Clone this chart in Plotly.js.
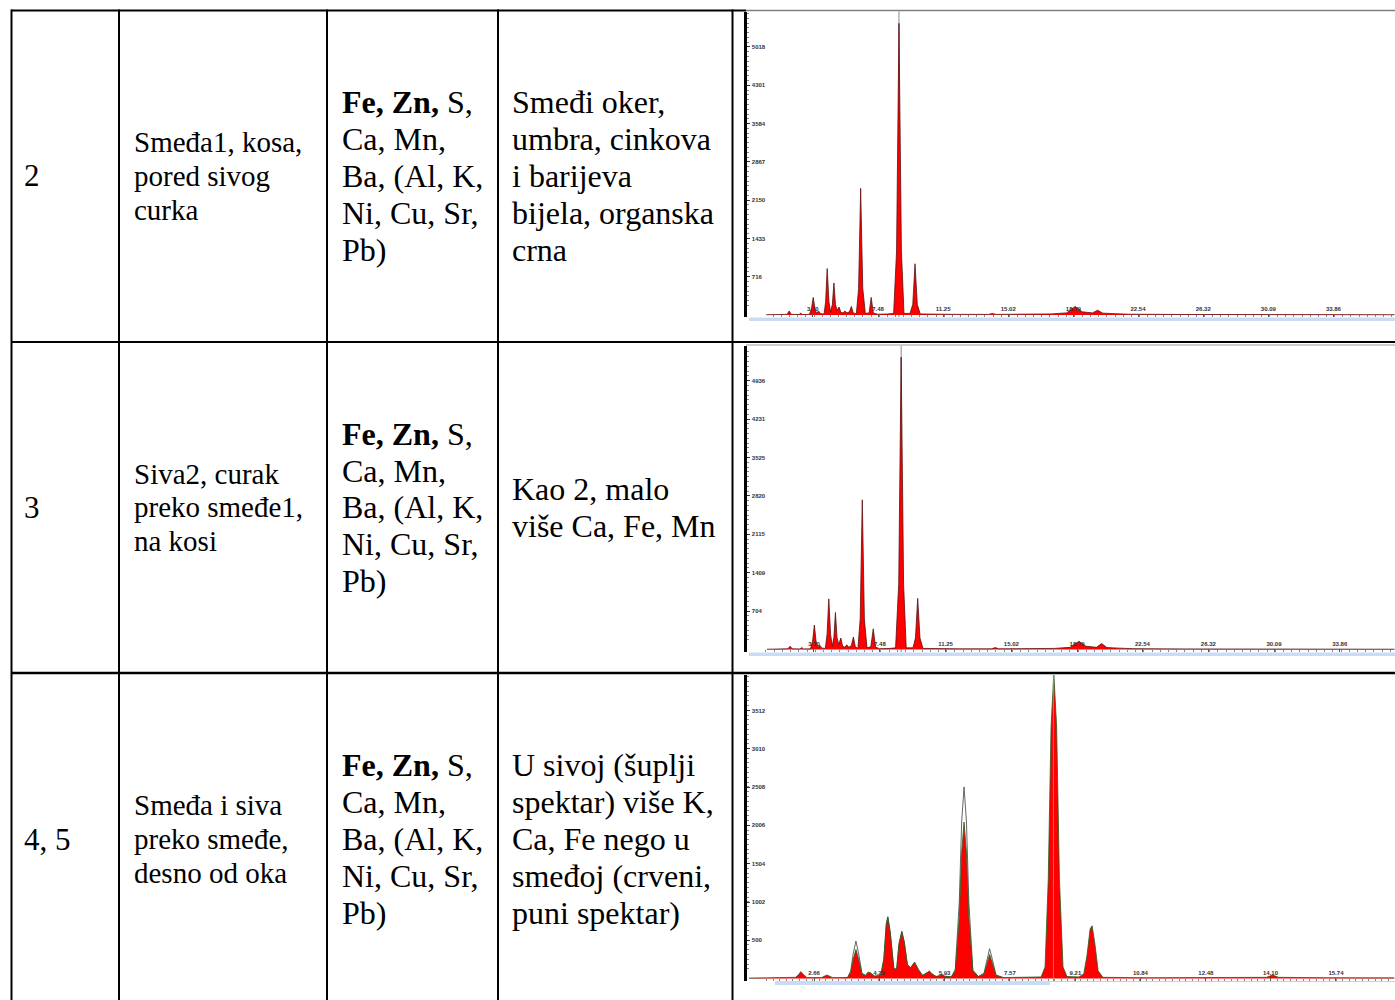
<!DOCTYPE html>
<html><head><meta charset="utf-8">
<script src="https://cdn.plot.ly/plotly-3.0.1.min.js"></script>
<style>html,body{margin:0;padding:0;background:#fff;}#chart{width:1395px;height:1000px;}</style>
</head><body><div id="chart"></div>
<script>
// ---------- table text ----------
const sampleIds = ["2", "3", "4, 5"];
const sampleDescriptions = [
  ["Smeđa1, kosa,", "pored sivog", "curka"],
  ["Siva2, curak", "preko smeđe1,", "na kosi"],
  ["Smeđa i siva", "preko smeđe,", "desno od oka"]
];
const detectedElements = [
  ["<b>Fe, Zn,</b> S,", "Ca, Mn,", "Ba, (Al, K,", "Ni, Cu, Sr,", "Pb)"],
  ["<b>Fe, Zn,</b> S,", "Ca, Mn,", "Ba, (Al, K,", "Ni, Cu, Sr,", "Pb)"],
  ["<b>Fe, Zn,</b> S,", "Ca, Mn,", "Ba, (Al, K,", "Ni, Cu, Sr,", "Pb)"]
];
const interpretations = [
  ["Smeđi oker,", "umbra, cinkova", "i barijeva", "bijela, organska", "crna"],
  ["Kao 2, malo", "više Ca, Fe, Mn"],
  ["U sivoj (šuplji", "spektar) više K,", "Ca, Fe nego u", "smeđoj (crveni,", "puni spektar)"]
];

// ---------- spectrum 1 (row "2") ----------
const s1Energy = [1.0,1.8,2.2,2.33,2.45,2.9,3.0,3.1,3.5,3.62,3.72,3.82,3.92,4.03,4.15,4.35,4.44,4.53,4.63,4.73,4.83,4.92,5.01,5.1,5.22,5.32,5.45,5.56,5.67,5.82,5.93,6.04,6.22,6.35,6.47,6.59,6.74,6.96,7.08,7.2,7.45,8.0,8.38,8.55,8.69,8.83,8.98,9.33,9.49,9.62,9.75,9.92,10.5,12.0,13.9,14.1,14.3,17.5,18.4,18.9,19.3,19.9,20.2,20.5,21.2,22.0,25.0,30.0,37.4];
const s1Counts = [5,10,12,75,12,10,35,10,12,120,330,120,30,75,25,20,250,870,250,60,200,600,200,90,150,50,40,75,40,60,160,40,20,500,2370,500,30,40,330,40,15,18,30,1200,5460,1200,30,30,200,960,200,20,15,12,12,30,12,20,40,160,60,40,90,35,25,15,10,8,5];
const s1YTicks = [716, 1433, 2150, 2867, 3584, 4301, 5018];
const s1XTicks = [3.70, 7.48, 11.25, 15.02, 18.79, 22.54, 26.32, 30.09, 33.86];
const s1XTickText = ["3.70", "7.48", "11.25", "15.02", "18.79", "22.54", "26.32", "30.09", "33.86"];

// ---------- spectrum 2 (row "3") ----------
const s2Energy = [1.0,1.8,2.2,2.33,2.45,2.9,3.0,3.1,3.5,3.62,3.72,3.82,3.92,4.03,4.15,4.35,4.45,4.55,4.65,4.75,4.84,4.93,5.02,5.12,5.24,5.34,5.47,5.58,5.69,5.84,5.96,6.07,6.22,6.35,6.47,6.59,6.74,6.96,7.1,7.23,7.45,8.0,8.38,8.56,8.70,8.84,8.99,9.38,9.52,9.65,9.78,9.95,10.5,12.0,13.9,14.1,14.3,17.5,18.4,18.9,19.3,19.9,20.2,20.5,21.2,22.0,25.0,30.0,37.0];
const s2Counts = [5,10,12,60,12,10,35,10,12,150,450,150,30,80,25,20,280,930,280,60,220,680,220,90,210,60,40,85,40,70,230,50,20,560,2750,560,30,50,380,45,15,18,30,1200,5370,1200,30,30,210,940,210,20,15,12,12,35,12,20,40,150,60,40,110,35,25,15,10,8,5];
const s2YTicks = [704, 1409, 2115, 2820, 3525, 4231, 4936];
const s2XTicks = [3.70, 7.48, 11.25, 15.02, 18.79, 22.54, 26.32, 30.09, 33.86];
const s2XTickText = ["3.70", "7.48", "11.25", "15.02", "18.79", "22.54", "26.32", "30.09", "33.86"];

// ---------- spectrum 3 (row "4, 5"): red = brown area, hollow = grey area ----------
const s3Energy = [1.03,1.6,2.0,2.2,2.27,2.33,2.40,2.48,2.85,2.92,2.98,3.05,3.12,3.5,3.58,3.64,3.71,3.78,3.86,3.95,4.02,4.08,4.18,4.33,4.41,4.47,4.51,4.57,4.66,4.73,4.79,4.86,4.92,5.0,5.08,5.18,5.27,5.38,5.48,5.55,5.62,5.72,5.8,5.86,5.93,6.1,6.2,6.3,6.36,6.42,6.48,6.54,6.64,6.78,6.92,6.99,7.06,7.13,7.22,7.4,8.0,8.35,8.45,8.53,8.60,8.67,8.74,8.81,8.9,9.0,9.3,9.42,9.5,9.58,9.63,9.7,9.78,9.9,11.0,12.5,13.0,14.0,14.15,14.3,15.5,17.2];
const s3Counts = [5,8,10,15,50,90,50,12,12,30,45,30,12,12,80,250,380,250,60,40,80,70,30,40,250,700,800,600,130,120,450,610,480,180,140,210,120,40,70,95,60,25,35,50,30,20,100,800,1650,2050,1650,800,100,25,60,200,315,200,40,12,12,20,150,1300,3300,3990,3300,1300,150,25,20,60,300,650,690,450,100,15,10,12,10,15,45,15,10,8];
const s3HollowEnergy = [3.4,3.5,3.58,3.64,3.71,3.78,3.86,3.95,4.02,4.08,4.18,4.33,4.41,4.47,4.51,4.57,4.66,4.73,4.79,4.86,4.92,5.0,5.08,5.18,5.27,5.38,5.48,5.55,5.62,5.72,5.8,5.86,5.93,6.1,6.2,6.3,6.36,6.42,6.48,6.54,6.64,6.78,6.92,6.99,7.06,7.13,7.22,7.4];
const s3HollowCounts = [12,12,100,320,490,320,70,40,85,70,30,40,260,720,810,600,130,120,460,620,480,180,140,215,120,40,70,95,60,25,35,50,30,20,120,1000,2050,2510,2050,1000,110,25,70,250,390,250,45,12];
const s3YTicks = [500, 1002, 1504, 2006, 2508, 3010, 3512];
const s3XTicks = [2.66, 4.29, 5.93, 7.57, 9.21, 10.84, 12.48, 14.10, 15.74];
const s3XTickText = ["2.66", "4.29", "5.93", "7.57", "9.21", "10.84", "12.48", "14.10", "15.74"];

// cursor positions (keV) visible in each spectrum screenshot
const cursorEnergy = [8.69, 8.70, 8.66];

// ---------- layout helpers ----------
const W = 1395, H = 1000;
const px = x => x / W;
const py = y => 1 - y / H;

const annotations = [];
function addText(text, xPx, yPx, size) {
  annotations.push({
    text: text, xref: 'paper', yref: 'paper', x: px(xPx), y: py(yPx),
    xanchor: 'left', yanchor: 'middle', showarrow: false,
    font: {family: 'Liberation Serif, Times New Roman, serif', size: size, color: '#000'}
  });
}
const rowCenters = [176, 507.5, 839];
const colLeft = [22, 132, 340, 510];
const pitchSmall = 33.7, pitchLarge = 36.8;
function addBlock(lines, xPx, center, pitch, size) {
  const n = lines.length;
  lines.forEach((t, i) => addText(t, xPx, center + (i - (n - 1) / 2) * pitch, size));
}
for (let r = 0; r < 3; r++) {
  addText(sampleIds[r], colLeft[0], rowCenters[r], 31);
  addBlock(sampleDescriptions[r], colLeft[1], rowCenters[r], pitchSmall, 29);
  addBlock(detectedElements[r], colLeft[2], rowCenters[r], pitchLarge, 32);
  addBlock(interpretations[r], colLeft[3], rowCenters[r], pitchLarge, 32);
}

const shapes = [];
function pline(x0, y0, x1, y1, color, width, layer) {
  shapes.push({type: 'line', xref: 'paper', yref: 'paper', x0: px(x0), y0: py(y0), x1: px(x1), y1: py(y1),
    line: {color: color, width: width}, layer: layer || 'above'});
}
function prect(x0, y0, x1, y1, color) {
  shapes.push({type: 'rect', xref: 'paper', yref: 'paper', x0: px(x0), y0: py(y0), x1: px(x1), y1: py(y1),
    line: {width: 0}, fillcolor: color, layer: 'above'});
}
// spectrum screenshot decorations (scroll strips, frame edges)
prect(749, 317.5, 1395, 321, '#c9dcf4');
prect(749, 652.5, 1395, 656, '#c9dcf4');
prect(775, 981, 1050, 985, '#c9dcf4');
pline(1050, 981.5, 1395, 981.5, '#d0d0d0', 1);
pline(746, 10.5, 1395, 10.5, '#808080', 1.5);
pline(746, 345, 1395, 345, '#9a9a9a', 1);
// table grid
[11.5, 119, 327, 498, 732.5].forEach(x => pline(x, 9.5, x, 1000, '#000', 2));
pline(11, 10.5, 746, 10.5, '#000', 2);
pline(11, 342, 1395, 342, '#000', 2);
pline(11, 673, 1395, 673, '#000', 2.5);
// cursor lines
shapes.push({type: 'line', xref: 'x', yref: 'y domain', x0: cursorEnergy[0], x1: cursorEnergy[0], y0: 0, y1: 1, line: {color: '#8a8a8a', width: 1}, layer: 'below'});
shapes.push({type: 'line', xref: 'x2', yref: 'y2 domain', x0: cursorEnergy[1], x1: cursorEnergy[1], y0: 0, y1: 1, line: {color: '#8a8a8a', width: 1}, layer: 'below'});
shapes.push({type: 'line', xref: 'x3', yref: 'y3 domain', x0: cursorEnergy[2], x1: cursorEnergy[2], y0: 0, y1: 1, line: {color: '#8a8a8a', width: 1}, layer: 'above'});

const tickFont = {family: 'Liberation Sans, Arial, sans-serif', size: 6, color: '#333', weight: 'bold'};
function xAxis(domPx, range, vals, text, minorDtick, anchor) {
  return {domain: [px(domPx[0]), px(domPx[1])], range: range, anchor: anchor,
    showgrid: false, zeroline: false, showline: false,
    ticks: 'inside', ticklen: 3, tickwidth: 1, tickcolor: '#555',
    tickmode: 'array', tickvals: vals, ticktext: text,
    ticklabelposition: 'inside', tickfont: tickFont,
    minor: {ticks: 'inside', ticklen: 2, tickwidth: 1, tickcolor: '#888', tickmode: 'linear', tick0: 0, dtick: minorDtick, showgrid: false},
    fixedrange: true};
}
function yAxis(domPx, range, vals, minorDtick, anchor) {
  return {domain: [py(domPx[1]), py(domPx[0])], range: range, anchor: anchor,
    showgrid: false, zeroline: false, showline: true, linecolor: '#000', linewidth: 3,
    ticks: 'inside', ticklen: 3, tickwidth: 1, tickcolor: '#333',
    tickmode: 'array', tickvals: vals, ticktext: vals.map(String),
    ticklabelposition: 'inside', tickfont: tickFont,
    minor: {ticks: 'inside', ticklen: 2, tickwidth: 1, tickcolor: '#888', tickmode: 'linear', tick0: 0, dtick: minorDtick, showgrid: false},
    fixedrange: true};
}

const redFill = (x, y, xa, ya, edge) => ({type: 'scatter', mode: 'lines', x: x, y: y, xaxis: xa, yaxis: ya,
  fill: 'tozeroy', fillcolor: '#ff0000', line: {color: edge, width: 0.8}, hoverinfo: 'skip'});

const data = [
  redFill(s1Energy, s1Counts, 'x', 'y', '#5a1010'),
  redFill(s2Energy, s2Counts, 'x2', 'y2', '#5a1010'),
  {type: 'scatter', mode: 'lines', x: s3HollowEnergy, y: s3HollowCounts, xaxis: 'x3', yaxis: 'y3',
    line: {color: '#555', width: 0.9}, hoverinfo: 'skip'},
  redFill(s3Energy, s3Counts, 'x3', 'y3', '#1f5f1f')
];

const layout = {
  width: W, height: H, margin: {l: 0, r: 0, t: 0, b: 0},
  paper_bgcolor: '#fff', plot_bgcolor: 'rgba(0,0,0,0)', showlegend: false,
  xaxis: xAxis([747, 1395], [-0.116, 37.43], s1XTicks, s1XTickText, 0.4713, 'y'),
  yaxis: yAxis([11.5, 317], [-37, 5682], s1YTicks, 89.6, 'x'),
  xaxis2: xAxis([747, 1395], [-0.143, 37.03], s2XTicks, s2XTickText, 0.4713, 'y2'),
  yaxis2: yAxis([346, 652], [-46, 5575], s2YTicks, 88.2, 'x2'),
  xaxis3: xAxis([747, 1395], [0.98, 17.22], s3XTicks, s3XTickText, 0.164, 'y3'),
  yaxis3: yAxis([675, 981], [-33, 3976], s3YTicks, 62.75, 'x3'),
  shapes: shapes,
  annotations: annotations
};

Plotly.newPlot('chart', data, layout, {staticPlot: true, displayModeBar: false});
</script></body></html>
